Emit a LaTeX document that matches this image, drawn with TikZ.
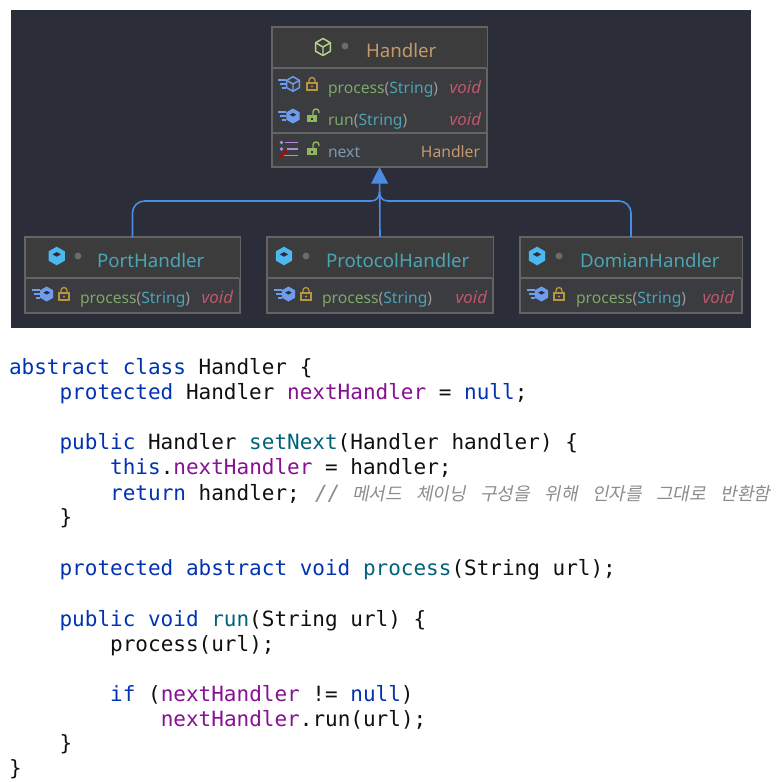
\documentclass[tikz,border=0pt]{standalone}
\usepackage{fontspec}
\usetikzlibrary{arrows.meta}
\setmainfont{Noto Sans}
\newfontfamily\codefont{DejaVu Sans Mono}
\newfontfamily\korfont[FakeSlant=0.2,WordSpace=3.6]{Noto Sans CJK KR}
\definecolor{panel}{HTML}{2B2E38}
\definecolor{headfill}{HTML}{3C3C3C}
\definecolor{bodyfill}{HTML}{3A3C40}
\definecolor{edge}{HTML}{646464}
\definecolor{conn}{HTML}{4A8CE4}
\definecolor{meth}{HTML}{7FA868}
\definecolor{strc}{HTML}{4CA3B3}
\definecolor{paren}{HTML}{9A9A9A}
\definecolor{voidc}{HTML}{C0566A}
\definecolor{tan}{HTML}{C49A6C}
\definecolor{fieldc}{HTML}{7F97B5}
\definecolor{classc}{HTML}{4BA5B5}
\definecolor{cubeb}{HTML}{4DB8F0}
\definecolor{methb}{HTML}{6F9CEC}
\definecolor{lockc}{HTML}{B8963F}
\definecolor{openc}{HTML}{8FB55F}
\definecolor{cubeg}{HTML}{B5D68A}
\definecolor{fieldicon}{HTML}{B58AD8}
\definecolor{kw}{HTML}{0033B3}
\definecolor{fld}{HTML}{871094}
\definecolor{mth}{HTML}{00627A}
\definecolor{cmt}{HTML}{8C8C8C}
\definecolor{ink}{HTML}{101010}
\newcommand{\K}[1]{\textcolor{kw}{#1}}
\newcommand{\F}[1]{\textcolor{fld}{#1}}
\newcommand{\M}[1]{\textcolor{mth}{#1}}
\newcommand{\umlsig}[1]{\textcolor{meth}{#1}\textcolor{paren}{(}\textcolor{strc}{String}\textcolor{paren}{)}}
\tikzset{
  x=0.75pt,y=-0.75pt,
  umlbox/.style={draw=edge,line width=0.9pt,inner sep=0pt,outer sep=0pt},
  sepline/.style={draw=edge,line width=1.2pt},
  assoc/.style={draw=conn,line width=1.2pt},
  uml/.style={inner sep=0pt,outer sep=0pt,font=\fontsize{11.75pt}{14pt}\selectfont},
  umlvoid/.style={inner sep=0pt,outer sep=0pt,anchor=base east,text=voidc,font=\fontsize{12.6pt}{14pt}\selectfont\itshape},
  title/.style={inner sep=0pt,outer sep=0pt,anchor=base west,font=\fontsize{14pt}{16pt}\selectfont},
  codeline/.style={inner sep=0pt,outer sep=0pt,anchor=base west,text=ink,font=\codefont\fontsize{15.75pt}{18pt}\selectfont},
  dotmark/.style={fill=gray!85!black,draw=none},
}
\newcommand{\hexpath}[3]{(#1,#2-#3) -- (#1+0.87*#3,#2-0.5*#3) -- (#1+0.87*#3,#2+0.5*#3) -- (#1,#2+#3) -- (#1-0.87*#3,#2+0.5*#3) -- (#1-0.87*#3,#2-0.5*#3) -- cycle}
\newcommand{\solidcube}[4]{%
  \fill[#4] \hexpath{#1}{#2}{#3};
  \fill[panel] (#1,#2-0.42*#3) -- (#1+0.45*#3,#2-0.18*#3) -- (#1,#2+0.08*#3) -- (#1-0.45*#3,#2-0.18*#3) -- cycle;
}
\newcommand{\wirecube}[4]{%
  \draw[#4,line width=1.1pt,line join=round] \hexpath{#1}{#2}{#3};
  \draw[#4,line width=1.1pt] (#1-0.87*#3,#2-0.5*#3) -- (#1,#2) -- (#1+0.87*#3,#2-0.5*#3) (#1,#2) -- (#1,#2+#3);
}
\newcommand{\speedbars}[3]{%
  \draw[#3,line width=0.9pt] (#1-11,#2-4) -- (#1-3,#2-4) (#1-9,#2) -- (#1-3,#2) (#1-7,#2+4) -- (#1-3,#2+4);
}
\newcommand{\closedlock}[3]{%
  \draw[#3,line width=1pt] (#1-3,#2-1) -- (#1-3,#2-3.5) arc (180:360:3) -- (#1+3,#2-1);
  \draw[#3,line width=1.1pt] (#1-5,#2-1) rectangle (#1+5,#2+6);
  \fill[#3] (#1,#2+2.5) circle (1.2);
}
\newcommand{\openlock}[3]{%
  \fill[#3] (#1-5.5,#2-1) rectangle (#1+4.5,#2+6);
  \fill[panel] (#1-1,#2+1.5) rectangle (#1+1,#2+3.5);
  \draw[#3,line width=1.1pt] (#1+1,#2-1) -- (#1+1,#2-4) arc (180:360:3) -- (#1+7,#2-3);
}
\begin{document}
\begin{tikzpicture}
\useasboundingbox (0,0) rectangle (782,782);
\fill[white] (0,0) rectangle (782,782);
\fill[panel] (11,10) rectangle (751,328);
% boxes
\node[umlbox,fill=bodyfill,minimum width=161.25pt,minimum height=105pt,anchor=north west] (handler) at (272,27) {};
\fill[headfill] (272.5,27.5) rectangle (486.5,68);
\node[umlbox,fill=bodyfill,minimum width=161.25pt,minimum height=57pt,anchor=north west] (port) at (25,237) {};
\fill[headfill] (25.5,237.5) rectangle (239.5,278);
\node[umlbox,fill=bodyfill,minimum width=169.5pt,minimum height=57pt,anchor=north west] (protocol) at (267,237) {};
\fill[headfill] (267.5,237.5) rectangle (492.5,278);
\node[umlbox,fill=bodyfill,minimum width=166.5pt,minimum height=57pt,anchor=north west] (domian) at (520,237) {};
\fill[headfill] (520.5,237.5) rectangle (741.5,278);
\draw[sepline] (273,68) -- (486,68) (273,133) -- (486,133);
\draw[sepline] (26,278) -- (239,278) (268,278) -- (492,278) (521,278) -- (741,278);
% connectors
\coordinate (junction) at (handler.south |- 0,201);
\draw[assoc,-{Triangle[length=12.5pt,width=12.5pt]}] (protocol.north) -- (handler.south);
\draw[assoc,line join=round,rounded corners=9pt] (port.north) -- (port.north |- junction) -- ([xshift=-6pt]junction);
\draw[assoc,rounded corners=9pt] (domian.north) -- (domian.north |- junction) -- ([xshift=6pt]junction);
\draw[assoc] ([xshift=-6.5pt]junction) .. controls ([xshift=-2pt]junction) and ([yshift=3pt]junction) .. ([yshift=7pt]junction);
\draw[assoc] ([xshift=6.5pt]junction) .. controls ([xshift=2pt]junction) and ([yshift=3pt]junction) .. ([yshift=7pt]junction);
% Handler
\wirecube{323}{47}{8.5}{cubeg}
\fill[dotmark] (345,46) circle (3.4);
\node[title,text=tan] (handlertitle) at (366,57) {Handler};
\speedbars{289}{84}{methb}
\wirecube{293}{84}{7.3}{methb}
\closedlock{312}{84}{lockc}
\node[uml,anchor=base west] (hm1) at (328,93) {\umlsig{process}};
\node[umlvoid] (hv1) at (481,93) {void};
\speedbars{289}{116}{methb}
\solidcube{293}{116}{7.5}{methb}
\openlock{312}{116}{openc}
\node[uml,anchor=base west] (hm2) at (328,125) {\umlsig{run}};
\node[umlvoid] (hv2) at (481,125) {void};
\draw[fieldicon,line width=1.3pt] (285,142.5) -- (298,142.5) (287,149) -- (298,149) (284,155.5) -- (298,155.5);
\fill[fieldicon] (281.5,142.5) circle (1.8) (281.5,149) circle (1.8);
\draw[red!75!black,line width=1.4pt] (280,158) -- (287,150);
\openlock{312}{149}{openc}
\node[uml,anchor=base west,text=fieldc] (hf) at (328,157) {next};
\node[uml,anchor=base east,text=tan] (hft) at (480,157) {Handler};
% PortHandler
\solidcube{56.7}{256}{9.3}{cubeb}
\fill[dotmark] (78,256) circle (3.4);
\node[title,text=classc] (porttitle) at (97,267) {PortHandler};
\speedbars{43}{294}{methb}
\solidcube{46.7}{294}{7.5}{methb}
\closedlock{64}{294}{lockc}
\node[uml,anchor=base west] (pm) at (80,303) {\umlsig{process}};
\node[umlvoid] (pv) at (233,303) {void};
% ProtocolHandler
\solidcube{284}{256}{9.3}{cubeb}
\fill[dotmark] (306,256) circle (3.4);
\node[title,text=classc] (prototitle) at (326,267) {ProtocolHandler};
\speedbars{285}{294}{methb}
\solidcube{288.5}{294}{7.5}{methb}
\closedlock{306}{294}{lockc}
\node[uml,anchor=base west] (qm) at (322,303) {\umlsig{process}};
\node[umlvoid] (qv) at (487,303) {void};
% DomianHandler
\solidcube{537}{256}{9.3}{cubeb}
\fill[dotmark] (559,256) circle (3.4);
\node[title,text=classc] (domtitle) at (580,267) {DomianHandler};
\speedbars{538}{294}{methb}
\solidcube{541.5}{294}{7.5}{methb}
\closedlock{559}{294}{lockc}
\node[uml,anchor=base west] (dm) at (576,303) {\umlsig{process}};
\node[umlvoid] (dv) at (734,303) {void};
% code
\node[codeline] (c1) at (9,374) {\K{abstract} \K{class} Handler \{};
\node[codeline] (c2) at (59.6,399) {\K{protected} Handler \F{nextHandler} = \K{null};};
\node[codeline] (c4) at (59.6,449) {\K{public} Handler \M{setNext}(Handler handler) \{};
\node[codeline] (c5) at (110.2,474) {\K{this}.\F{nextHandler} = handler;};
\node[codeline] (c6) at (110.2,500) {\K{return} handler;};
\node[codeline,text=cmt] (c6a) at (315,500) {\itshape //};
\node[inner sep=0pt,outer sep=0pt,anchor=base west,text=cmt,font=\korfont\fontsize{13.5pt}{15pt}\selectfont] (c6b) at (352,500) {메서드 체이닝 구성을 위해 인자를 그대로 반환함};
\node[codeline] (c7) at (59.6,524) {\}};
\node[codeline] (c9) at (59.6,575) {\K{protected} \K{abstract} \K{void} \M{process}(String url);};
\node[codeline] (c11) at (59.6,626) {\K{public} \K{void} \M{run}(String url) \{};
\node[codeline] (c12) at (110.2,651) {process(url);};
\node[codeline] (c14) at (110.2,701) {\K{if} (\F{nextHandler} != \K{null})};
\node[codeline] (c15) at (160.8,726) {\F{nextHandler}.run(url);};
\node[codeline] (c16) at (59.6,750) {\}};
\node[codeline] (c17) at (9,775) {\}};
\end{tikzpicture}
\end{document}
